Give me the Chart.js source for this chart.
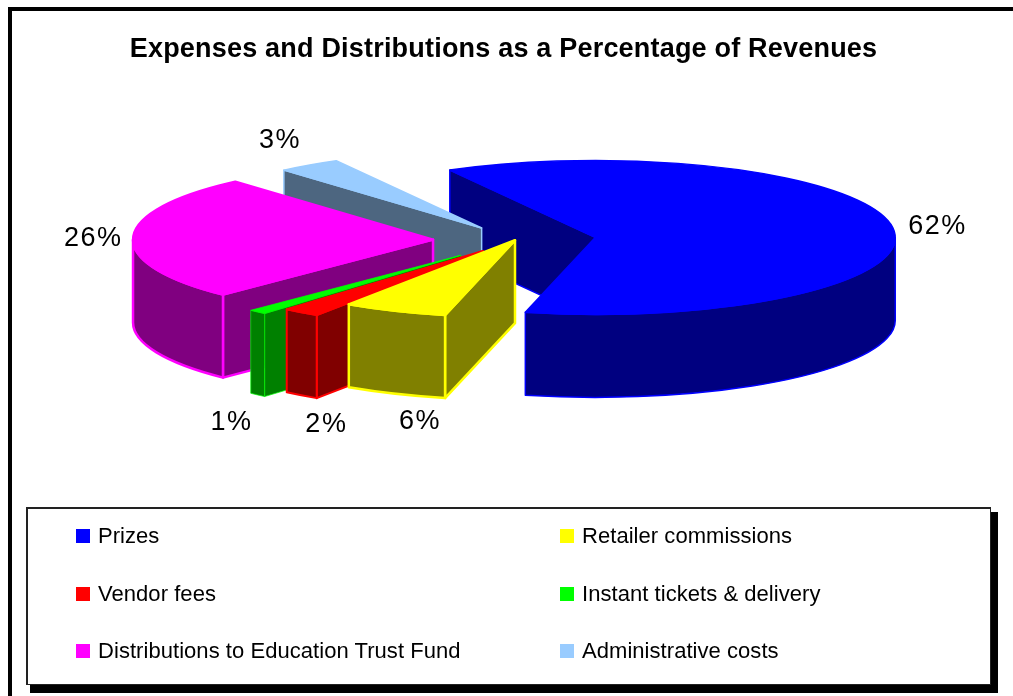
<!DOCTYPE html>
<html>
<head>
<meta charset="utf-8">
<title>Expenses and Distributions</title>
<script src="https://cdn.jsdelivr.net/npm/chart.js@4"></script>
<style>
  html, body { margin:0; padding:0; background:#fff; overflow:hidden; }
  #page { position:relative; width:1013px; height:696px; overflow:hidden; font-family:"Liberation Sans",Arial,sans-serif; color:#000; }
  #frame { position:absolute; left:8px; top:7px; width:1100px; height:800px; border-left:4px solid #000; border-top:4px solid #000; }
  #pie { position:absolute; left:0; top:0; }
  #legendBox { position:absolute; left:26px; top:507px; width:962px; height:175px; background:#fff;
    border:solid #222; border-width:2px 1px 1px 2px; box-shadow:5.5px 6.5px 0 1.5px #000; }
  .item { position:absolute; font-size:22px; line-height:26px; letter-spacing:.05px; white-space:nowrap; }
  .item i { position:absolute; left:-22px; top:6px; width:14px; height:14px; }
</style>
</head>
<body>
<div id="page">
  <div id="frame"></div>
  <canvas id="pie" width="1013" height="696"></canvas>
  <div id="legendBox"></div>
</div>
<script>
const categories = ['Prizes','Retailer commissions','Vendor fees','Instant tickets & delivery','Distributions to Education Trust Fund','Administrative costs'];
const shares = [61.8,5.6,2.0,1.0,26.2,3.4];
const topColors = ['#0000FF','#FFFF00','#FF0000','#00FF00','#FF00FF','#99CCFF'];
const sideColors = ['#000080','#808000','#800000','#008000','#800080','#4D6680'];
// how far each slice is pulled out of the pie, px along the ellipse
const explode = [81,0,53,80,82,58];
const edgeWidths = [1.5,2.5,2,0.7,2.5,1.5];
// label nudge from the rim point, px
const labelNudge = [[45,0],[25,111],[25,112],[-26,111],[-40,1],[-29,-24]];
const drawOrder = [0,5,4,3,2,1];

const RX = 300, RY = 77, DEPTH = 83;
const PIE_SHIFT = 11.5; // title is centred a bit left of the pie

function sliceWall(ctx, c, a, color, edge){
  const px = c.x + RX*Math.cos(a), py = c.y + RY*Math.sin(a);
  ctx.beginPath();
  ctx.moveTo(c.x, c.y);
  ctx.lineTo(px, py);
  ctx.lineTo(px, py+DEPTH);
  ctx.lineTo(c.x, c.y+DEPTH);
  ctx.closePath();
  ctx.fillStyle = color; ctx.fill();
  ctx.strokeStyle = edge; ctx.stroke();
}

function drawSlice(ctx, arc, i){
  const a0 = arc.startAngle, a1 = arc.endAngle, mid = (a0+a1)/2;
  const c = { x: arc.x + PIE_SHIFT + explode[i]*Math.cos(mid), y: arc.y + explode[i]*Math.sin(mid)*RY/RX };
  ctx.lineWidth = edgeWidths[i];
  ctx.lineJoin = 'round';

  if (Math.cos(a0) < 0) sliceWall(ctx, c, a0, sideColors[i], topColors[i]);
  if (Math.cos(a1) > 0) sliceWall(ctx, c, a1, sideColors[i], topColors[i]);

  // rim wall, only the front half of the ellipse shows
  for (const k of [0, 2]) {
    const from = Math.max(a0, k*Math.PI), to = Math.min(a1, (k+1)*Math.PI);
    if (to <= from) continue;
    ctx.beginPath();
    ctx.ellipse(c.x, c.y, RX, RY, 0, from, to);
    ctx.ellipse(c.x, c.y+DEPTH, RX, RY, 0, to, from, true);
    ctx.closePath();
    ctx.fillStyle = sideColors[i]; ctx.fill();
    ctx.strokeStyle = topColors[i]; ctx.stroke();
  }

  ctx.beginPath();
  ctx.moveTo(c.x, c.y);
  ctx.ellipse(c.x, c.y, RX, RY, 0, a0, a1);
  ctx.closePath();
  ctx.fillStyle = topColors[i]; ctx.fill();
  ctx.strokeStyle = topColors[i]; ctx.stroke();
}

const pie3d = {
  id:'pie3d',
  beforeDraw(chart){ chart.ctx.letterSpacing = '0.2px'; },
  beforeDatasetDraw(chart){
    const ctx = chart.ctx, arcs = chart.getDatasetMeta(0).data;
    ctx.save();
    drawOrder.forEach(i => drawSlice(ctx, arcs[i], i));
    ctx.fillStyle = '#000';
    ctx.font = '27px "Liberation Sans", Arial, sans-serif';
    ctx.letterSpacing = '1.5px';
    ctx.textAlign = 'center'; ctx.textBaseline = 'middle';
    arcs.forEach((arc, i) => {
      const mid = (arc.startAngle+arc.endAngle)/2;
      const x = arc.x + PIE_SHIFT + (explode[i] + RX)*Math.cos(mid) + labelNudge[i][0];
      const y = arc.y + (explode[i]*RY/RX + RY)*Math.sin(mid) + labelNudge[i][1];
      ctx.fillText(Math.round(shares[i]) + '%', x, y);
    });
    ctx.restore();
    return false;
  }
};

const chart = new Chart(document.getElementById('pie'), {
  type:'pie',
  data:{ labels:categories, datasets:[{ data:shares, backgroundColor:topColors }] },
  options:{
    responsive:false,
    animation:false,
    rotation:-29,
    events:[],
    layout:{ padding:{ right:6, top:9, bottom:291 } },
    plugins:{
      legend:{ display:false },
      tooltip:{ enabled:false },
      title:{ display:true, text:'Expenses and Distributions as a Percentage of Revenues',
        color:'#000', font:{ family:'"Liberation Sans", Arial, sans-serif', size:27, weight:'bold' }, padding:{ top:24, bottom:10 } }
    }
  },
  plugins:[pie3d]
});

// legend is a plain two column box under the chart
const box = document.getElementById('legendBox');
categories.forEach((name, i) => {
  const el = document.createElement('div');
  el.className = 'item';
  el.style.left = (i % 2 ? 554 : 70) + 'px';
  el.style.top = (14 + Math.floor(i/2)*57.5) + 'px';
  el.innerHTML = '<i style="background:' + topColors[i] + '"></i>';
  el.appendChild(document.createTextNode(name));
  box.appendChild(el);
});
</script>
</body>
</html>
